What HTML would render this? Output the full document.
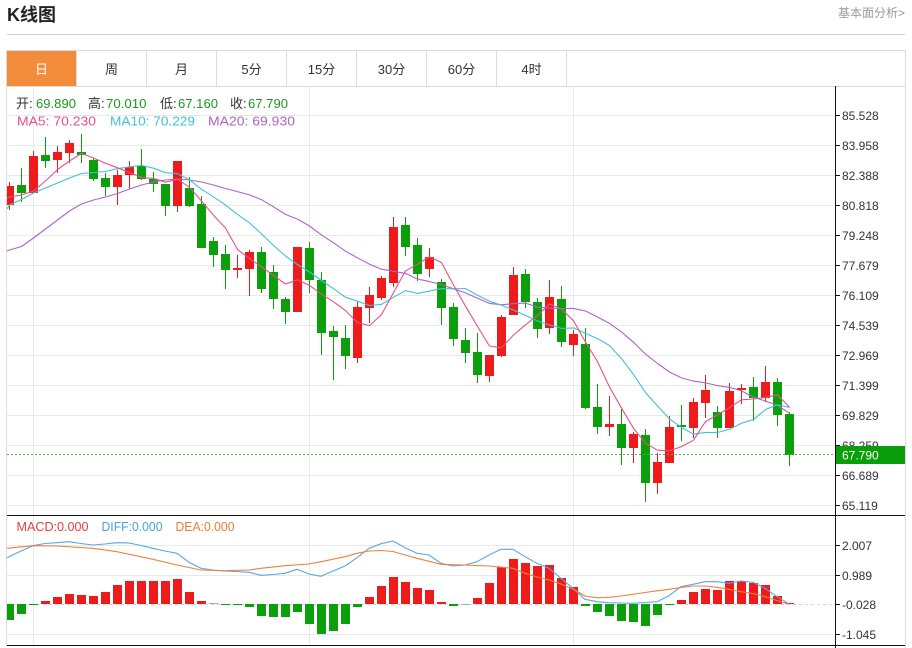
<!DOCTYPE html>
<html><head><meta charset="utf-8"><style>
html,body{margin:0;padding:0;background:#fff;}
svg{display:block;font-family:"Liberation Sans","Noto Sans CJK SC",sans-serif;}
.r{fill:#ef1b1b}.g{fill:#0ba00b}
</style></head><body>
<svg width="912" height="648" viewBox="0 0 912 648" xmlns="http://www.w3.org/2000/svg">
<defs>
<clipPath id="cm"><rect x="7" y="87" width="828" height="428"/></clipPath>
<clipPath id="cd"><rect x="7" y="516" width="828" height="129"/></clipPath>
</defs>
<!-- header -->
<text x="7" y="21" font-size="18" font-weight="bold" fill="#222">K线图</text>
<text x="838" y="17" font-size="12" fill="#999">基本面分析&gt;</text>
<line x1="7" y1="34.5" x2="905" y2="34.5" stroke="#cfcfcf"/>
<!-- tabs -->
<rect x="7" y="51" width="69.5" height="35" fill="#f28b3a"/>
<rect x="6.5" y="50.5" width="899" height="36" fill="none" stroke="#dcdcdc"/>
<g stroke="#dcdcdc">
<line x1="76.5" y1="51" x2="76.5" y2="86"/><line x1="146.5" y1="51" x2="146.5" y2="86"/><line x1="216.5" y1="51" x2="216.5" y2="86"/><line x1="286.5" y1="51" x2="286.5" y2="86"/><line x1="356.5" y1="51" x2="356.5" y2="86"/><line x1="426.5" y1="51" x2="426.5" y2="86"/><line x1="496.5" y1="51" x2="496.5" y2="86"/><line x1="566.5" y1="51" x2="566.5" y2="86"/>
</g>
<g font-size="13" fill="#333" text-anchor="middle">
<text x="41.5" y="74" fill="#fff">日</text><text x="111.5" y="74">周</text><text x="181.5" y="74">月</text><text x="251.5" y="74">5分</text><text x="321.5" y="74">15分</text><text x="391.5" y="74">30分</text><text x="461.5" y="74">60分</text><text x="531.5" y="74">4时</text>
</g>
<!-- frame -->
<line x1="6.5" y1="86" x2="6.5" y2="646" stroke="#dcdcdc"/>
<line x1="905.5" y1="86" x2="905.5" y2="648" stroke="#dcdcdc"/>
<!-- grid main -->
<g stroke="#e9e9e9">
<line x1="7" y1="115.5" x2="835" y2="115.5"/><line x1="7" y1="145.5" x2="835" y2="145.5"/><line x1="7" y1="175.5" x2="835" y2="175.5"/><line x1="7" y1="205.5" x2="835" y2="205.5"/><line x1="7" y1="235.5" x2="835" y2="235.5"/><line x1="7" y1="265.5" x2="835" y2="265.5"/><line x1="7" y1="295.5" x2="835" y2="295.5"/><line x1="7" y1="325.5" x2="835" y2="325.5"/><line x1="7" y1="355.5" x2="835" y2="355.5"/><line x1="7" y1="385.5" x2="835" y2="385.5"/><line x1="7" y1="415.5" x2="835" y2="415.5"/><line x1="7" y1="445.5" x2="835" y2="445.5"/><line x1="7" y1="475.5" x2="835" y2="475.5"/><line x1="7" y1="505.5" x2="835" y2="505.5"/>
<line x1="7" y1="545.5" x2="835" y2="545.5"/><line x1="7" y1="575.5" x2="835" y2="575.5"/><line x1="7" y1="634.5" x2="835" y2="634.5"/>
<line x1="33.5" y1="87" x2="33.5" y2="645"/><line x1="309.5" y1="87" x2="309.5" y2="645"/><line x1="573.5" y1="87" x2="573.5" y2="645"/>
</g>
<line x1="7" y1="604.5" x2="835" y2="604.5" stroke="#c9d6e3" stroke-dasharray="3,3"/>
<!-- info text -->
<g font-size="13">
<text x="16" y="108" fill="#333">开:</text><text x="36" y="108" fill="#1a9a1a" textLength="40" lengthAdjust="spacingAndGlyphs">69.890</text>
<text x="88" y="108" fill="#333">高:</text><text x="106" y="108" fill="#1a9a1a" textLength="40.5" lengthAdjust="spacingAndGlyphs">70.010</text>
<text x="160" y="108" fill="#333">低:</text><text x="178" y="108" fill="#1a9a1a" textLength="40" lengthAdjust="spacingAndGlyphs">67.160</text>
<text x="230" y="108" fill="#333">收:</text><text x="248" y="108" fill="#1a9a1a" textLength="40" lengthAdjust="spacingAndGlyphs">67.790</text>
<text x="17" y="125.5" fill="#e8508a" textLength="79" lengthAdjust="spacingAndGlyphs">MA5: 70.230</text>
<text x="110" y="125.5" fill="#40c2d4" textLength="85" lengthAdjust="spacingAndGlyphs">MA10: 70.229</text>
<text x="208" y="125.5" fill="#b062c6" textLength="87" lengthAdjust="spacingAndGlyphs">MA20: 69.930</text>
<text x="16.5" y="531" fill="#e4403f" textLength="72" lengthAdjust="spacingAndGlyphs">MACD:0.000</text>
<text x="101.5" y="531" fill="#4e9ee0" textLength="61" lengthAdjust="spacingAndGlyphs">DIFF:0.000</text>
<text x="175.5" y="531" fill="#f07a32" textLength="59" lengthAdjust="spacingAndGlyphs">DEA:0.000</text>
</g>
<!-- candles -->
<g clip-path="url(#cm)">
<g class="wk">
<rect class="r" x="9" y="182" width="1" height="28"/><rect class="r" x="5" y="186" width="9" height="19"/>
<rect class="g" x="21" y="168" width="1" height="34"/><rect class="g" x="17" y="185" width="9" height="8"/>
<rect class="r" x="33" y="151" width="1" height="42"/><rect class="r" x="29" y="156" width="9" height="37"/>
<rect class="g" x="45" y="137" width="1" height="31"/><rect class="g" x="41" y="155" width="9" height="6"/>
<rect class="r" x="57" y="146" width="1" height="27"/><rect class="r" x="53" y="152" width="9" height="8"/>
<rect class="r" x="69" y="140" width="1" height="23"/><rect class="r" x="65" y="143" width="9" height="10"/>
<rect class="g" x="81" y="134" width="1" height="29"/><rect class="g" x="77" y="152" width="9" height="3"/>
<rect class="g" x="93" y="158" width="1" height="23"/><rect class="g" x="89" y="160" width="9" height="19"/>
<rect class="g" x="105" y="173" width="1" height="23"/><rect class="g" x="101" y="178" width="9" height="9"/>
<rect class="r" x="117" y="170" width="1" height="35"/><rect class="r" x="113" y="175" width="9" height="12"/>
<rect class="r" x="129" y="161" width="1" height="28"/><rect class="r" x="125" y="167" width="9" height="8"/>
<rect class="g" x="141" y="149" width="1" height="31"/><rect class="g" x="137" y="166" width="9" height="13"/>
<rect class="g" x="153" y="172" width="1" height="20"/><rect class="g" x="149" y="179" width="9" height="5"/>
<rect class="g" x="165" y="184" width="1" height="32"/><rect class="g" x="161" y="184" width="9" height="22"/>
<rect class="r" x="177" y="161" width="1" height="51"/><rect class="r" x="173" y="161" width="9" height="45"/>
<rect class="g" x="189" y="177" width="1" height="30"/><rect class="g" x="185" y="188" width="9" height="18"/>
<rect class="g" x="201" y="196" width="1" height="52"/><rect class="g" x="197" y="204" width="9" height="44"/>
<rect class="g" x="213" y="237" width="1" height="30"/><rect class="g" x="209" y="241" width="9" height="14"/>
<rect class="g" x="225" y="245" width="1" height="44"/><rect class="g" x="221" y="254" width="9" height="16"/>
<rect class="r" x="237" y="255" width="1" height="23"/><rect class="r" x="233" y="268" width="9" height="2"/>
<rect class="r" x="249" y="250" width="1" height="46"/><rect class="r" x="245" y="252" width="9" height="17"/>
<rect class="g" x="261" y="247" width="1" height="46"/><rect class="g" x="257" y="252" width="9" height="37"/>
<rect class="g" x="273" y="265" width="1" height="44"/><rect class="g" x="269" y="272" width="9" height="27"/>
<rect class="g" x="285" y="297" width="1" height="27"/><rect class="g" x="281" y="299" width="9" height="13"/>
<rect class="r" x="297" y="247" width="1" height="65"/><rect class="r" x="293" y="247" width="9" height="65"/>
<rect class="g" x="309" y="242" width="1" height="51"/><rect class="g" x="305" y="248" width="9" height="32"/>
<rect class="g" x="321" y="272" width="1" height="83"/><rect class="g" x="317" y="280" width="9" height="53"/>
<rect class="g" x="333" y="326" width="1" height="54"/><rect class="g" x="329" y="331" width="9" height="6"/>
<rect class="g" x="345" y="325" width="1" height="44"/><rect class="g" x="341" y="338" width="9" height="18"/>
<rect class="r" x="357" y="302" width="1" height="61"/><rect class="r" x="353" y="307" width="9" height="51"/>
<rect class="r" x="369" y="287" width="1" height="36"/><rect class="r" x="365" y="295" width="9" height="13"/>
<rect class="r" x="381" y="276" width="1" height="24"/><rect class="r" x="377" y="278" width="9" height="20"/>
<rect class="r" x="393" y="217" width="1" height="70"/><rect class="r" x="389" y="227" width="9" height="56"/>
<rect class="g" x="405" y="217" width="1" height="39"/><rect class="g" x="401" y="225" width="9" height="22"/>
<rect class="g" x="417" y="238" width="1" height="43"/><rect class="g" x="413" y="245" width="9" height="29"/>
<rect class="r" x="429" y="248" width="1" height="29"/><rect class="r" x="425" y="257" width="9" height="12"/>
<rect class="g" x="441" y="279" width="1" height="46"/><rect class="g" x="437" y="282" width="9" height="26"/>
<rect class="g" x="453" y="303" width="1" height="43"/><rect class="g" x="449" y="307" width="9" height="32"/>
<rect class="g" x="465" y="328" width="1" height="35"/><rect class="g" x="461" y="340" width="9" height="13"/>
<rect class="g" x="477" y="333" width="1" height="50"/><rect class="g" x="473" y="352" width="9" height="23"/>
<rect class="r" x="489" y="355" width="1" height="27"/><rect class="r" x="485" y="355" width="9" height="21"/>
<rect class="r" x="501" y="315" width="1" height="42"/><rect class="r" x="497" y="317" width="9" height="39"/>
<rect class="r" x="513" y="267" width="1" height="48"/><rect class="r" x="509" y="275" width="9" height="40"/>
<rect class="g" x="525" y="269" width="1" height="39"/><rect class="g" x="521" y="274" width="9" height="28"/>
<rect class="g" x="537" y="298" width="1" height="40"/><rect class="g" x="533" y="302" width="9" height="27"/>
<rect class="r" x="549" y="280" width="1" height="54"/><rect class="r" x="545" y="297" width="9" height="31"/>
<rect class="g" x="561" y="286" width="1" height="61"/><rect class="g" x="557" y="299" width="9" height="43"/>
<rect class="r" x="573" y="330" width="1" height="26"/><rect class="r" x="569" y="334" width="9" height="11"/>
<rect class="g" x="585" y="328" width="1" height="81"/><rect class="g" x="581" y="344" width="9" height="64"/>
<rect class="g" x="597" y="384" width="1" height="50"/><rect class="g" x="593" y="407" width="9" height="20"/>
<rect class="r" x="609" y="396" width="1" height="40"/><rect class="r" x="605" y="424" width="9" height="3"/>
<rect class="g" x="621" y="409" width="1" height="56"/><rect class="g" x="617" y="424" width="9" height="24"/>
<rect class="r" x="633" y="432" width="1" height="31"/><rect class="r" x="629" y="434" width="9" height="14"/>
<rect class="g" x="645" y="429" width="1" height="73"/><rect class="g" x="641" y="435" width="9" height="48"/>
<rect class="r" x="657" y="453" width="1" height="41"/><rect class="r" x="653" y="462" width="9" height="21"/>
<rect class="r" x="669" y="416" width="1" height="47"/><rect class="r" x="665" y="427" width="9" height="36"/>
<rect class="g" x="681" y="405" width="1" height="36"/><rect class="g" x="677" y="425" width="9" height="2"/>
<rect class="r" x="693" y="398" width="1" height="40"/><rect class="r" x="689" y="402" width="9" height="26"/>
<rect class="r" x="705" y="375" width="1" height="43"/><rect class="r" x="701" y="390" width="9" height="13"/>
<rect class="g" x="717" y="406" width="1" height="32"/><rect class="g" x="713" y="412" width="9" height="16"/>
<rect class="r" x="729" y="383" width="1" height="45"/><rect class="r" x="725" y="391" width="9" height="37"/>
<rect class="r" x="741" y="384" width="1" height="20"/><rect class="r" x="737" y="388" width="9" height="2"/>
<rect class="g" x="753" y="377" width="1" height="44"/><rect class="g" x="749" y="387" width="9" height="11"/>
<rect class="r" x="765" y="366" width="1" height="36"/><rect class="r" x="761" y="382" width="9" height="16"/>
<rect class="g" x="777" y="378" width="1" height="48"/><rect class="g" x="773" y="382" width="9" height="33"/>
<rect class="g" x="789" y="412" width="1" height="54"/><rect class="g" x="785" y="414" width="9" height="41"/>
</g>
<g fill="none" stroke-width="1.1" stroke-linejoin="round">
<polyline stroke="#b062c6" points="7,251 9.5,250 21.5,246.5 33.5,238 45.5,229 57.5,220 69.5,211 81.5,204 93.5,200 105.5,197 117.5,193.5 129.5,189 141.5,185 153.5,182 165.5,180 177.5,179 189.5,180 201.5,182 213.5,185 225.5,188.5 237.5,191.6 249.5,194.9 261.5,199.7 273.5,206.8 285.5,214.4 297.5,219.1 309.5,226 321.5,234.9 333.5,242.8 345.5,251.2 357.5,257.8 369.5,264.2 381.5,269.2 393.5,271.3 405.5,273.4 417.5,279 429.5,281.6 441.5,284.6 453.5,288.8 465.5,292.9 477.5,298.3 489.5,303.4 501.5,304.8 513.5,303.6 525.5,303.1 537.5,307.2 549.5,308.1 561.5,308.5 573.5,308.4 585.5,311 597.5,317 609.5,323.4 621.5,331.9 633.5,342.3 645.5,354.1 657.5,363.5 669.5,372 681.5,377.9 693.5,381.1 705.5,382.9 717.5,385.6 729.5,387.4 741.5,390.9 753.5,397.1 765.5,401.1 777.5,405.4 789.5,413.2"/>
<polyline stroke="#40c2d4" points="7,209 9.5,205 21.5,199.5 33.5,193 45.5,188 57.5,183 69.5,178 81.5,173.5 93.5,172.5 105.5,171.5 117.5,168.7 129.5,166.8 141.5,165.4 153.5,168.2 165.5,172.7 177.5,173.6 189.5,179.9 201.5,189.2 213.5,196.8 225.5,205.1 237.5,214.4 249.5,222.9 261.5,233.9 273.5,245.4 285.5,256 297.5,264.6 309.5,272 321.5,280.5 333.5,288.7 345.5,297.3 357.5,301.2 369.5,305.5 381.5,304.4 393.5,297.2 405.5,290.7 417.5,293.4 429.5,291.1 441.5,288.6 453.5,288.8 465.5,288.5 477.5,295.3 489.5,301.3 501.5,305.2 513.5,310 525.5,315.5 537.5,321 549.5,325 561.5,328.4 573.5,327.9 585.5,333.4 597.5,338.6 609.5,345.5 621.5,358.6 633.5,374.5 645.5,392.6 657.5,405.9 669.5,418.9 681.5,427.4 693.5,434.2 705.5,432.4 717.5,432.5 729.5,429.2 741.5,423.2 753.5,419.6 765.5,409.5 777.5,404.8 789.5,407.5"/>
<polyline stroke="#e8508a" points="7,198 9.5,197 21.5,195 33.5,191 45.5,181 57.5,169.6 69.5,161 81.5,153.4 93.5,158 105.5,163.2 117.5,167.8 129.5,172.6 141.5,177.4 153.5,178.4 165.5,182.2 177.5,179.4 189.5,187.2 201.5,201 213.5,215.2 225.5,228 237.5,249.4 249.5,258.6 261.5,266.8 273.5,275.6 285.5,284 297.5,279.8 309.5,285.4 321.5,294.2 333.5,301.8 345.5,310.6 357.5,322.6 369.5,325.6 381.5,314.6 393.5,292.6 405.5,270.8 417.5,264.2 429.5,256.6 441.5,262.6 453.5,285 465.5,306.2 477.5,326.4 489.5,346 501.5,347.8 513.5,335 525.5,324.8 537.5,315.6 549.5,304 561.5,309 573.5,320.8 585.5,342 597.5,361.6 609.5,387 621.5,408.2 633.5,428.2 645.5,443.2 657.5,450.2 669.5,450.8 681.5,446.6 693.5,440.2 705.5,421.6 717.5,414.8 729.5,407.6 741.5,399.8 753.5,399 765.5,397.4 777.5,394.8 789.5,407.4"/>
</g>
</g>
<line x1="7" y1="454.5" x2="835" y2="454.5" stroke="#4cb04c" stroke-dasharray="2,2"/>
<!-- MACD -->
<g clip-path="url(#cd)">
<rect class="g" x="5" y="604" width="9" height="16"/><rect class="g" x="17" y="604" width="9" height="10"/><rect class="g" x="29" y="604" width="9" height="1"/>
<rect class="r" x="41" y="601" width="9" height="3"/><rect class="r" x="53" y="597" width="9" height="7"/><rect class="r" x="65" y="594" width="9" height="10"/><rect class="r" x="77" y="595" width="9" height="9"/><rect class="r" x="89" y="596" width="9" height="8"/><rect class="r" x="101" y="592" width="9" height="12"/><rect class="r" x="113" y="585" width="9" height="19"/><rect class="r" x="125" y="581" width="9" height="23"/><rect class="r" x="137" y="581" width="9" height="23"/><rect class="r" x="149" y="581" width="9" height="23"/><rect class="r" x="161" y="581" width="9" height="23"/><rect class="r" x="173" y="579" width="9" height="25"/><rect class="r" x="185" y="592" width="9" height="12"/><rect class="r" x="197" y="601" width="9" height="3"/><rect x="209" y="603" width="9" height="1" fill="#e890a8"/>
<rect class="g" x="221" y="604" width="9" height="1"/><rect class="g" x="233" y="604" width="9" height="1"/><rect class="g" x="245" y="604" width="9" height="3"/><rect class="g" x="257" y="604" width="9" height="12"/><rect class="g" x="269" y="604" width="9" height="13"/><rect class="g" x="281" y="604" width="9" height="13"/><rect class="g" x="293" y="604" width="9" height="8"/><rect class="g" x="305" y="604" width="9" height="20"/><rect class="g" x="317" y="604" width="9" height="30"/><rect class="g" x="329" y="604" width="9" height="27"/><rect class="g" x="341" y="604" width="9" height="20"/><rect class="g" x="353" y="604" width="9" height="3"/>
<rect class="r" x="365" y="597" width="9" height="7"/><rect class="r" x="377" y="586" width="9" height="18"/><rect class="r" x="389" y="577" width="9" height="27"/><rect class="r" x="401" y="582" width="9" height="22"/><rect class="r" x="413" y="588" width="9" height="16"/><rect class="r" x="425" y="590" width="9" height="14"/><rect class="r" x="437" y="602" width="9" height="2"/>
<rect class="g" x="449" y="604" width="9" height="2"/><rect x="461" y="604" width="9" height="1" fill="#7cc8a8"/>
<rect class="r" x="473" y="598" width="9" height="6"/><rect class="r" x="485" y="583" width="9" height="21"/><rect class="r" x="497" y="567" width="9" height="37"/><rect class="r" x="509" y="559" width="9" height="45"/><rect class="r" x="521" y="563" width="9" height="41"/><rect class="r" x="533" y="566" width="9" height="38"/><rect class="r" x="545" y="565" width="9" height="39"/><rect class="r" x="557" y="578" width="9" height="26"/><rect class="r" x="569" y="587" width="9" height="17"/>
<rect class="g" x="581" y="604" width="9" height="2"/><rect class="g" x="593" y="604" width="9" height="8"/><rect class="g" x="605" y="604" width="9" height="12"/><rect class="g" x="617" y="604" width="9" height="17"/><rect class="g" x="629" y="604" width="9" height="18"/><rect class="g" x="641" y="604" width="9" height="22"/><rect class="g" x="653" y="604" width="9" height="11"/><rect class="g" x="665" y="604" width="9" height="1"/>
<rect class="r" x="677" y="600" width="9" height="4"/><rect class="r" x="689" y="592" width="9" height="12"/><rect class="r" x="701" y="589" width="9" height="15"/><rect class="r" x="713" y="590" width="9" height="14"/><rect class="r" x="725" y="581" width="9" height="23"/><rect class="r" x="737" y="581" width="9" height="23"/><rect class="r" x="749" y="583" width="9" height="21"/><rect class="r" x="761" y="585" width="9" height="19"/><rect class="r" x="773" y="596" width="9" height="8"/><rect class="r" x="785" y="603" width="9" height="1"/>
<g fill="none" stroke-width="1.1" stroke-linejoin="round">
<polyline stroke="#5aa6e6" points="7,557.7 21,551 33,545.7 45,543.5 57,542.7 69,541.7 81,543.5 93,545 105,544 117,542.7 129,543 141,545.5 153,548.3 165,551 177,553.3 189,562.3 201,568.3 213,570 225,571 237,571.5 249,572.3 261,575.3 273,574.5 285,573.3 297,569.3 309,574 321,576.3 333,571 345,566 357,557.7 369,548.3 381,543.7 393,541 405,547.7 417,553.3 429,555 441,563.3 453,566 465,565 477,561.7 489,555 501,549.3 513,549.3 525,556.7 537,563.3 549,568.3 561,578.3 573,588.3 585,599.3 597,601.7 609,602.7 621,603 633,603.3 645,602.5 657,601.7 669,595.7 681,586.7 693,584.3 705,581.7 717,581.7 729,583.3 741,581 753,582.3 765,588.3 777,596.7 789,603.7"/>
<polyline stroke="#f0803a" points="7,548.3 33,545.7 57,546 93,548.3 117,551.7 153,559.3 177,565 201,570 225,570.7 249,570 261,568.3 285,565.7 309,564 321,561.7 345,556.7 357,553.3 369,551 381,550.5 393,551.5 405,555 417,558.3 441,564.3 465,565 489,566 513,568.3 525,573.3 537,577 549,580 561,584 573,589 585,596 597,597.7 609,597.3 621,596 633,594.3 645,592.5 657,590.8 669,589.3 681,587.5 693,586 705,586 717,587.3 729,589.3 741,591.7 753,593.5 765,596.7 777,600.5 789,604"/>
</g>
</g>
<!-- axes -->
<line x1="7" y1="515.5" x2="905" y2="515.5" stroke="#111"/>
<line x1="7" y1="645.5" x2="905" y2="645.5" stroke="#111"/>
<line x1="835.5" y1="86" x2="835.5" y2="648" stroke="#111"/>
<g stroke="#111">
<line x1="836" y1="115.5" x2="840" y2="115.5"/><line x1="836" y1="145.5" x2="840" y2="145.5"/><line x1="836" y1="175.5" x2="840" y2="175.5"/><line x1="836" y1="205.5" x2="840" y2="205.5"/><line x1="836" y1="235.5" x2="840" y2="235.5"/><line x1="836" y1="265.5" x2="840" y2="265.5"/><line x1="836" y1="295.5" x2="840" y2="295.5"/><line x1="836" y1="325.5" x2="840" y2="325.5"/><line x1="836" y1="355.5" x2="840" y2="355.5"/><line x1="836" y1="385.5" x2="840" y2="385.5"/><line x1="836" y1="415.5" x2="840" y2="415.5"/><line x1="836" y1="445.5" x2="840" y2="445.5"/><line x1="836" y1="475.5" x2="840" y2="475.5"/><line x1="836" y1="505.5" x2="840" y2="505.5"/>
<line x1="836" y1="545.5" x2="840" y2="545.5"/><line x1="836" y1="575.5" x2="840" y2="575.5"/><line x1="836" y1="604.5" x2="840" y2="604.5"/><line x1="836" y1="634.5" x2="840" y2="634.5"/>
</g>
<g font-size="12" fill="#333">
<text x="842" y="120">85.528</text><text x="842" y="150">83.958</text><text x="842" y="180">82.388</text><text x="842" y="210">80.818</text><text x="842" y="240">79.248</text><text x="842" y="270">77.679</text><text x="842" y="300">76.109</text><text x="842" y="330">74.539</text><text x="842" y="360">72.969</text><text x="842" y="390">71.399</text><text x="842" y="420">69.829</text><text x="842" y="450">68.259</text><text x="842" y="480">66.689</text><text x="842" y="510">65.119</text>
<text x="842" y="550">2.007</text><text x="842" y="580">0.989</text><text x="842" y="609">-0.028</text><text x="842" y="639">-1.045</text>
</g>
<rect x="836" y="446" width="69" height="18" fill="#0a9e0a"/>
<text x="842" y="459.5" font-size="12" fill="#fff">67.790</text>
</svg>
</body></html>
